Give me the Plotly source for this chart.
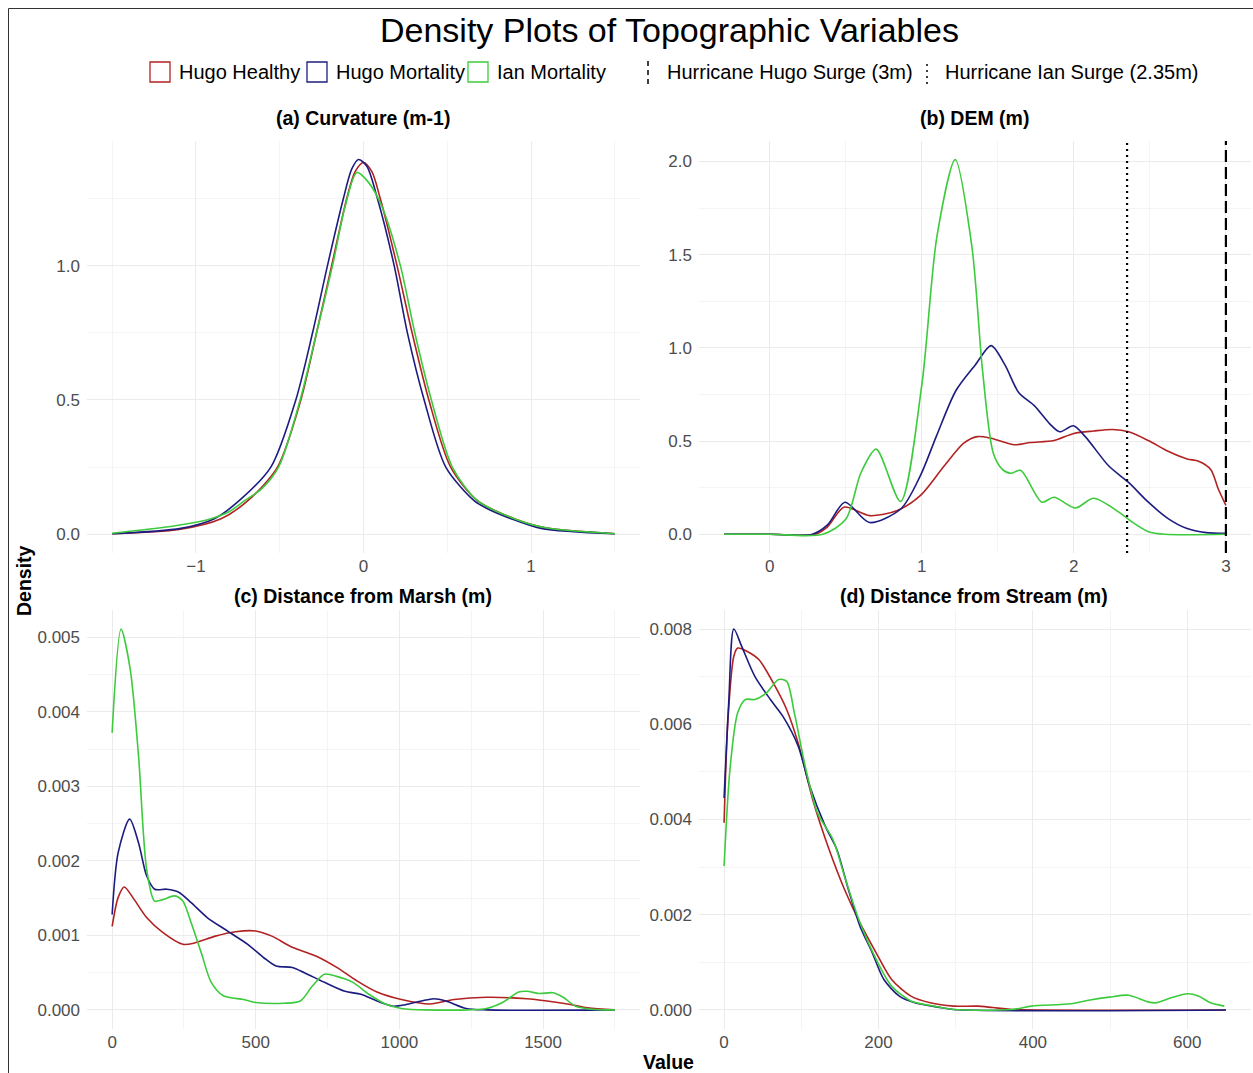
import plotly.graph_objects as go

W, H = 1253, 1073
RED, BLUE, GREEN = "#B22222", "#1C1C80", "#3CCB3C"
series_names = ["Hugo Healthy", "Hugo Mortality", "Ian Mortality"]
series_colors = [RED, BLUE, GREEN]

# ---- (a) Curvature ----
curv_red_x = [-1.5, -1.1, -0.85, -0.69, -0.513, -0.374, -0.28, -0.19, -0.1, -0.05, 0.0, 0.05, 0.1, 0.2, 0.29, 0.39, 0.52, 0.68, 0.9, 1.08, 1.5]
curv_red_y = [0.002, 0.018, 0.058, 0.125, 0.25, 0.5, 0.75, 1.0, 1.25, 1.35, 1.384, 1.35, 1.25, 1.0, 0.75, 0.5, 0.25, 0.125, 0.058, 0.025, 0.002]
curv_blue_x = [-1.5, -1.09, -0.89, -0.742, -0.553, -0.404, -0.304, -0.215, -0.12, -0.07, -0.03, 0.02, 0.083, 0.183, 0.262, 0.362, 0.491, 0.66, 0.74, 0.88, 1.06, 1.5]
curv_blue_y = [0.002, 0.022, 0.058, 0.125, 0.25, 0.5, 0.75, 1.0, 1.25, 1.36, 1.395, 1.37, 1.25, 1.0, 0.75, 0.5, 0.25, 0.125, 0.095, 0.058, 0.022, 0.002]
curv_green_x = [-1.5, -1.2, -1.0, -0.9, -0.8, -0.71, -0.61, -0.507, -0.378, -0.28, -0.185, -0.11, -0.04, 0.03, 0.11, 0.22, 0.306, 0.405, 0.53, 0.68, 0.9, 1.08, 1.5]
curv_green_y = [0.004, 0.025, 0.045, 0.06, 0.085, 0.125, 0.168, 0.25, 0.5, 0.75, 1.0, 1.22, 1.347, 1.31, 1.22, 1.0, 0.75, 0.5, 0.25, 0.125, 0.058, 0.025, 0.002]

# ---- (b) DEM ----
dem_red_x = [-0.3, 0.0, 0.3, 0.38, 0.49, 0.657, 0.84, 0.99, 1.147, 1.276, 1.366, 1.456, 1.61, 1.714, 1.87, 2.0, 2.13, 2.255, 2.36, 2.49, 2.62, 2.745, 2.82, 2.9, 2.95, 3.0]
dem_red_y = [0.0, 0.0, 0.0, 0.04, 0.146, 0.10, 0.128, 0.207, 0.366, 0.489, 0.524, 0.515, 0.48, 0.492, 0.503, 0.541, 0.554, 0.562, 0.55, 0.503, 0.445, 0.404, 0.392, 0.348, 0.243, 0.155]
dem_blue_x = [-0.3, 0.0, 0.28, 0.38, 0.495, 0.657, 0.863, 0.99, 1.095, 1.224, 1.353, 1.456, 1.546, 1.637, 1.74, 1.84, 1.907, 1.997, 2.075, 2.23, 2.36, 2.49, 2.62, 2.74, 2.87, 3.0]
dem_blue_y = [0.0, 0.0, 0.0, 0.05, 0.172, 0.063, 0.137, 0.313, 0.524, 0.77, 0.91, 1.012, 0.91, 0.761, 0.69, 0.594, 0.55, 0.582, 0.524, 0.366, 0.278, 0.172, 0.084, 0.032, 0.009, 0.005]
dem_green_x = [-0.3, 0.0, 0.35, 0.5, 0.6, 0.7, 0.86, 1.0, 1.1, 1.22, 1.33, 1.40, 1.47, 1.53, 1.585, 1.65, 1.79, 1.87, 2.01, 2.13, 2.31, 2.38, 2.49, 2.6, 3.0]
dem_green_y = [0.0, 0.0, 0.0, 0.08, 0.33, 0.457, 0.176, 0.8, 1.6, 2.01, 1.54, 0.875, 0.436, 0.348, 0.327, 0.343, 0.172, 0.199, 0.141, 0.193, 0.111, 0.067, 0.014, 0.0, 0.0]

# ---- (c) Distance from Marsh ----
marsh_red_x = [0, 21, 42, 77, 120, 176, 246, 289, 359, 430, 500, 556, 627, 711, 782, 852, 922, 1007, 1106, 1190, 1303, 1444, 1514, 1585, 1655, 1750]
marsh_red_y = [0.00112, 0.00151, 0.00165, 0.00148, 0.00124, 0.00104, 0.00088, 0.0009, 0.00099, 0.00105, 0.00106, 0.00099, 0.00084, 0.00072, 0.00057, 0.00039, 0.00024, 0.00014, 0.00008, 0.00014, 0.00017, 0.00015, 0.00012, 0.00008, 0.00003, 0.0]
marsh_blue_x = [0, 21, 61, 92, 120, 148, 190, 232, 275, 331, 401, 472, 528, 570, 627, 669, 739, 810, 866, 922, 979, 1021, 1077, 1120, 1162, 1232, 1303, 1750]
marsh_blue_y = [0.00128, 0.00211, 0.00256, 0.00224, 0.0018, 0.00162, 0.00162, 0.00158, 0.00144, 0.00124, 0.00106, 0.00088, 0.0007, 0.00059, 0.00057, 0.0005, 0.00037, 0.00025, 0.00021, 0.00012, 0.00005, 0.00007, 0.00012, 0.00015, 0.00012, 0.00002, 0.0, 0.0]
marsh_green_x = [0, 31, 63, 92, 120, 148, 176, 218, 246, 275, 310, 345, 387, 458, 500, 599, 655, 697, 739, 782, 838, 894, 951, 1007, 1092, 1303, 1359, 1415, 1444, 1486, 1535, 1570, 1613, 1669, 1750]
marsh_green_y = [0.00372, 0.00511, 0.00457, 0.0034, 0.00189, 0.00146, 0.00148, 0.00153, 0.00146, 0.00117, 0.00077, 0.00037, 0.00019, 0.00014, 0.0001, 0.00009, 0.00012, 0.00032, 0.00048, 0.00045, 0.00037, 0.00021, 0.00008, 0.00002, 0.0, 0.00002, 0.0001, 0.00024, 0.00025, 0.00022, 0.00023, 0.00017, 0.00005, 0.00001, 0.0]

# ---- (d) Distance from Stream ----
stream_red_x = [0, 5, 12.6, 17.6, 30, 45, 66, 81, 96, 116, 136, 156, 176, 197, 217, 242, 267, 297, 328, 348, 373, 650]
stream_red_y = [0.00393, 0.0061, 0.00743, 0.0076, 0.00753, 0.00736, 0.0068, 0.00631, 0.0056, 0.00435, 0.00337, 0.00253, 0.00183, 0.0012, 0.00064, 0.00029, 0.00015, 0.00008, 0.00008, 0.00005, 0.00001, 0.0]
stream_blue_x = [0, 6, 12.6, 22.7, 40, 60, 76, 96, 111, 131, 146, 161, 176, 192, 207, 227, 247, 277, 297, 650]
stream_blue_y = [0.00445, 0.00645, 0.008, 0.00764, 0.007, 0.00652, 0.00617, 0.00554, 0.0047, 0.00386, 0.00337, 0.00253, 0.00176, 0.0012, 0.00064, 0.00029, 0.00015, 0.00006, 0.00001, 0.0]
stream_green_x = [0, 7.6, 17.6, 27.7, 40, 55, 70.6, 81, 91, 106, 121, 141, 156, 176, 197, 217, 242, 272, 297, 373, 398, 449, 474, 499, 524, 549, 559, 580, 600, 615, 630, 648]
stream_green_y = [0.00302, 0.00505, 0.00624, 0.00652, 0.00652, 0.00666, 0.00694, 0.0069, 0.00624, 0.00505, 0.00414, 0.00358, 0.00281, 0.00183, 0.00106, 0.0005, 0.00019, 0.00008, 0.00001, 0.00001, 0.00008, 0.00013, 0.00021, 0.00027, 0.00031, 0.00017, 0.00015, 0.00026, 0.00034, 0.00029, 0.00015, 0.00008]

panel_titles = ["(a) Curvature (m-1)", "(b) DEM (m)", "(c) Distance from Marsh (m)", "(d) Distance from Stream (m)"]
hugo_surge = 3.0
ian_surge = 2.35

panels = [
    [(curv_red_x, curv_red_y), (curv_blue_x, curv_blue_y), (curv_green_x, curv_green_y)],
    [(dem_red_x, dem_red_y), (dem_blue_x, dem_blue_y), (dem_green_x, dem_green_y)],
    [(marsh_red_x, marsh_red_y), (marsh_blue_x, marsh_blue_y), (marsh_green_x, marsh_green_y)],
    [(stream_red_x, stream_red_y), (stream_blue_x, stream_blue_y), (stream_green_x, stream_green_y)],
]

def px_x(p):
    return p / W

def px_y(p):
    return 1 - p / H

xdom_l = [px_x(87), px_x(640)]
xdom_r = [px_x(699), px_x(1251)]
ydom_t = [px_y(553), px_y(141)]
ydom_b = [px_y(1029), px_y(610)]

fig = go.Figure()
axes_ids = ["", "2", "3", "4"]
for i, panel in enumerate(panels):
    for j, (xs, ys) in enumerate(panel):
        fig.add_trace(go.Scatter(
            x=xs, y=ys, mode="lines", name=series_names[j],
            line=dict(color=series_colors[j], width=1.6, shape="spline", smoothing=0.8),
            xaxis="x" + axes_ids[i], yaxis="y" + axes_ids[i], showlegend=False,
        ))

grid_major = "#EBEBEB"
grid_minor = "#F4F4F4"
font_main = "Liberation Sans, Arial, sans-serif"
tickfont = dict(family=font_main, size=17, color="#4D4D4D")

def axis(domain, rng, dtick, minor_dtick, anchor, standoff, tickformat=None, tick0=0):
    d = dict(domain=domain, range=rng, dtick=dtick, tick0=tick0, showgrid=True, gridcolor=grid_major,
             gridwidth=1.1, zeroline=False, showline=False, ticks="", tickfont=tickfont,
             anchor=anchor, minor=dict(showgrid=True, gridcolor=grid_minor, gridwidth=0.8, dtick=minor_dtick, tick0=tick0),
             ticklen=0, ticklabelstandoff=standoff)
    if tickformat:
        d["tickformat"] = tickformat
    return d

fig.update_layout(
    xaxis=axis(xdom_l, [-1.65, 1.65], 1, 0.5, "y", 1),
    yaxis=axis(ydom_t, [-0.0697, 1.464], 0.5, 0.25, "x", 6, ".1f"),
    xaxis2=axis(xdom_r, [-0.465, 3.165], 1, 0.5, "y2", 1),
    yaxis2=axis(ydom_t, [-0.1005, 2.11], 0.5, 0.25, "x2", 6, ".1f"),
    xaxis3=axis(xdom_l, [-87.5, 1837.5], 500, 250, "y3", 1),
    yaxis3=axis(ydom_b, [-0.000256, 0.005366], 0.001, 0.0005, "x3", 6, ".3f"),
    xaxis4=axis(xdom_r, [-32.5, 682.5], 200, 100, "y4", 1),
    yaxis4=axis(ydom_b, [-0.0004, 0.0084], 0.002, 0.001, "x4", 6, ".3f"),
)

shapes = []
# surge lines in panel (b)
shapes.append(dict(type="line", xref="x2", yref="y2 domain", x0=hugo_surge, x1=hugo_surge, y0=0, y1=1,
                   line=dict(color="black", width=2.2, dash="12px,5px")))
shapes.append(dict(type="line", xref="x2", yref="y2 domain", x0=ian_surge, x1=ian_surge, y0=0, y1=1,
                   line=dict(color="black", width=2.2, dash="2px,4px")))
# outer frame (left and top)
shapes.append(dict(type="line", xref="paper", yref="paper", x0=px_x(8.5), x1=px_x(8.5), y0=0, y1=px_y(8.5),
                   line=dict(color="#333333", width=1)))
shapes.append(dict(type="line", xref="paper", yref="paper", x0=px_x(8.5), x1=1, y0=px_y(8.5), y1=px_y(8.5),
                   line=dict(color="#333333", width=1)))

annotations = []
annotations.append(dict(text="Density Plots of Topographic Variables", x=px_x(669), y=px_y(30), xref="paper", yref="paper",
                        showarrow=False, font=dict(family=font_main, size=34, color="black"), xanchor="center", yanchor="middle"))

# legend
legend_y = 72
box_x = [150, 307, 468]
text_x = [177, 334, 495]
for bx, tx, name, col in zip(box_x, text_x, series_names, series_colors):
    shapes.append(dict(type="rect", xref="paper", yref="paper", x0=px_x(bx), x1=px_x(bx + 20), y0=px_y(legend_y + 10), y1=px_y(legend_y - 10),
                       line=dict(color=col, width=1.3), fillcolor="white"))
    annotations.append(dict(text=name, x=px_x(tx), y=px_y(legend_y), xref="paper", yref="paper", showarrow=False,
                            font=dict(family=font_main, size=20, color="black"), xanchor="left", yanchor="middle"))
line_glyphs = [(648, 665, "Hurricane Hugo Surge (3m)", "5px,4px"), (927, 943, "Hurricane Ian Surge (2.35m)", "2px,4px")]
for gx, tx, name, dash in line_glyphs:
    shapes.append(dict(type="line", xref="paper", yref="paper", x0=px_x(gx), x1=px_x(gx), y0=px_y(legend_y + 12), y1=px_y(legend_y - 11),
                       line=dict(color="black", width=1.5, dash=dash)))
    annotations.append(dict(text=name, x=px_x(tx), y=px_y(legend_y), xref="paper", yref="paper", showarrow=False,
                            font=dict(family=font_main, size=20, color="black"), xanchor="left", yanchor="middle"))

title_pos = [(363, 118), (974, 118), (363, 596), (974, 596)]
for (tx, ty), t in zip(title_pos, panel_titles):
    annotations.append(dict(text="<b>" + t + "</b>", x=px_x(tx), y=px_y(ty), xref="paper", yref="paper", showarrow=False,
                            font=dict(family=font_main, size=19.5, color="black"), xanchor="center", yanchor="middle"))

annotations.append(dict(text="<b>Density</b>", x=px_x(24), y=px_y(581), xref="paper", yref="paper", showarrow=False, textangle=-90,
                        font=dict(family=font_main, size=19.5, color="black"), xanchor="center", yanchor="middle"))
annotations.append(dict(text="<b>Value</b>", x=px_x(668), y=px_y(1062), xref="paper", yref="paper", showarrow=False,
                        font=dict(family=font_main, size=19.5, color="black"), xanchor="center", yanchor="middle"))

fig.update_layout(
    width=W, height=H, margin=dict(l=0, r=0, t=0, b=0),
    paper_bgcolor="white", plot_bgcolor="white",
    shapes=shapes, annotations=annotations, showlegend=False,
)

fig.write_html("out.html")
